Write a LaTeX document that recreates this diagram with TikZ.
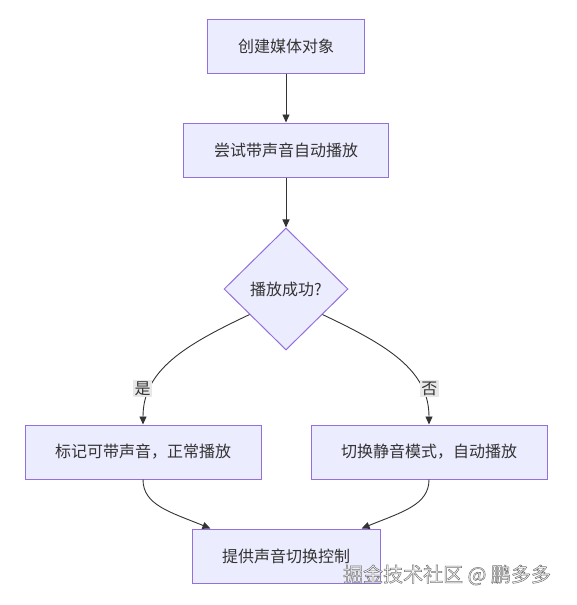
\documentclass[tikz,border=0pt]{standalone}
\usepackage{fontspec}
\setmainfont{Noto Sans CJK SC}
\newfontfamily\wmfont{Noto Sans CJK SC}[FakeBold=2.5]
\usetikzlibrary{shapes.geometric,arrows.meta}
\definecolor{nodefill}{HTML}{ECECFF}
\definecolor{nodeline}{HTML}{9370DB}
\definecolor{ink}{HTML}{333333}
\definecolor{lblbg}{HTML}{E8E8E8}
\tikzset{
  box/.style={draw=nodeline, fill=nodefill, line width=1pt, text=ink,
    minimum height=54pt, inner sep=0pt,
    font=\fontsize{16pt}{19pt}\selectfont},
  decision/.style={diamond, draw=nodeline, fill=nodefill, line width=1pt, text=ink,
    minimum width=124pt, minimum height=122pt, inner sep=0pt,
    font=\fontsize{16pt}{19pt}\selectfont},
  flow/.style={draw=ink, line width=0.9pt, -{Triangle[length=8pt,width=7pt]}},
  lbl/.style={fill=lblbg, text=ink, inner sep=1.5pt, font=\fontsize{16pt}{19pt}\selectfont},
  wm/.style={font=\wmfont\fontsize{20pt}{24pt}\selectfont, inner sep=0pt}
}
\begin{document}
\begin{tikzpicture}[x=1pt, y=-1pt]
\useasboundingbox (0,0) rectangle (577,605);
\node[box, minimum width=157pt] (a) at (286,46) {创建媒体对象};
\node[box, minimum width=205pt] (b) at (286,150) {尝试带声音自动播放};
\node[decision] (d) at (286,289) {播放成功?};
\node[box, minimum width=236pt] (l) at (143,452) {标记可带声音，正常播放};
\node[box, minimum width=236pt] (r) at (429,452) {切换静音模式，自动播放};
\node[box, minimum width=188pt] (e) at (286,556) {提供声音切换控制};

\draw[flow] (a) -- (b);
\draw[flow] (b) -- (d);
\draw[flow] (d.215) .. controls (185,345) and (143,370) .. node[lbl, pos=0.75, xshift=-8pt] (yes) {是} (l.north);
\draw[flow] (d.325) .. controls (387,345) and (429,370) .. node[lbl, pos=0.75, xshift=8pt] (no) {否} (r.north);
\draw[flow] (l.south) .. controls (143,505) and (170,512) .. (e.160);
\draw[flow] (r.south) .. controls (429,505) and (402,512) .. (e.20);

% watermark: white letters with a grey outline
\node[wm, text=white] (wmark) at (447,575) {\special{pdf:literal direct 0.45 0.45 0.45 RG}掘金技术社区 @ 鹏多多};
\end{tikzpicture}
\end{document}
